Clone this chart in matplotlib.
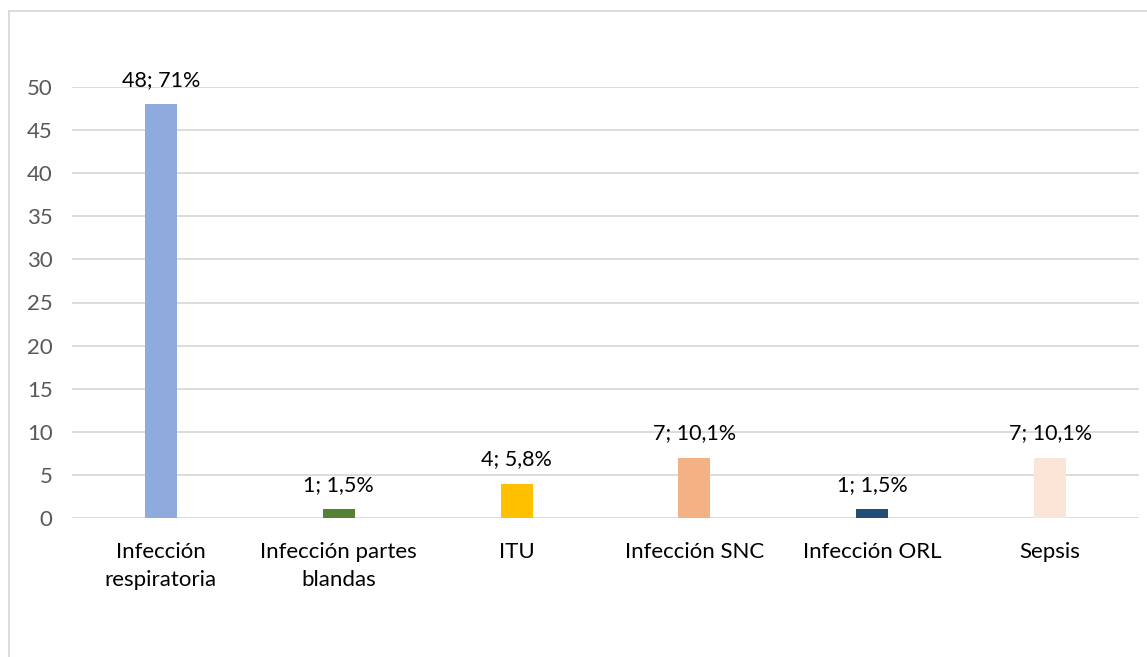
import matplotlib
matplotlib.use("Agg")
import matplotlib.pyplot as plt
from matplotlib.lines import Line2D

plt.rcParams['font.family'] = ['Lato', 'DejaVu Sans']

categories = ["Infección\nrespiratoria", "Infección partes\nblandas", "ITU",
              "Infección SNC", "Infección ORL", "Sepsis"]
counts = [48, 1, 4, 7, 1, 7]
percents = ["71%", "1,5%", "5,8%", "10,1%", "1,5%", "10,1%"]
colors = ["#8FAADC", "#548235", "#FFC000", "#F4B183", "#1F4E79", "#FBE5D6"]
yticks = [0, 5, 10, 15, 20, 25, 30, 35, 40, 45, 50]

W, H = 1147, 657
fig = plt.figure(figsize=(W / 100, H / 100), dpi=100)
ax = fig.add_axes([72 / W, 1 - 518 / H, (1139 - 72) / W, (518 - 87) / H])

x = list(range(len(categories)))
ax.bar(x, counts, width=0.18, color=colors, zorder=3)

for xi, c, p in zip(x, counts, percents):
    ax.annotate(f"{c}; {p}", (xi, c), xytext=(0, 10.5), textcoords="offset points",
                ha="center", va="bottom", fontsize=15.5, color="#000000")

ax.set_xlim(-0.5, len(categories) - 0.5)
ax.set_ylim(0, 50)
ax.set_yticks(yticks)
ax.yaxis.grid(True, color="#D9D9D9", linewidth=1.3, zorder=0)
ax.set_axisbelow(True)
for s in ax.spines.values():
    s.set_visible(False)
ax.tick_params(axis="both", length=0)
ax.tick_params(axis="y", labelsize=16, labelcolor="#595959", pad=14)
ax.set_xticks(x)
ax.set_xticklabels(categories, fontsize=16, color="#000000", linespacing=1.5)
ax.tick_params(axis="x", pad=17)

# chart frame (left and top edges)
fig.add_artist(Line2D([8.5 / W, 8.5 / W], [0, 1 - 11 / H], transform=fig.transFigure,
                      color="#D9D9D9", linewidth=1.3))
fig.add_artist(Line2D([8.5 / W, 1], [1 - 11 / H, 1 - 11 / H], transform=fig.transFigure,
                      color="#D9D9D9", linewidth=1.3))

fig.savefig("out.png", dpi=100, facecolor="white")
